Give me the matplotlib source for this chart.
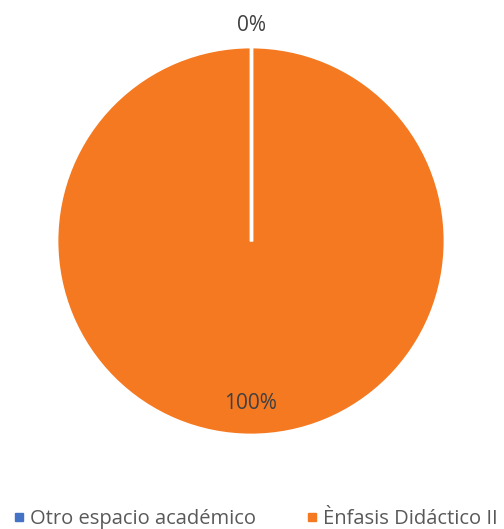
import matplotlib.pyplot as plt
import numpy as np

categories = ["Otro espacio académico", "Ènfasis Didáctico II"]
values = [0, 100]
colors = ["#4472C4", "#F47920"]
label_dist = [1.11, 0.84]

plt.rcParams['font.family'] = ['Open Sans', 'DejaVu Sans']

W, H = 504, 529
fig = plt.figure(figsize=(W / 100, H / 100), dpi=100)
cx, cy, r = 251, 241, 194
ax = fig.add_axes([(cx - r) / W, (H - cy - r) / H, 2 * r / W, 2 * r / H])

wedges, _ = ax.pie(values, colors=colors, startangle=90, counterclock=False,
                   radius=1, wedgeprops=dict(edgecolor="white", linewidth=2))
ax.set_xlim(-1, 1)
ax.set_ylim(-1, 1)
ax.set_aspect("equal")
ax.axis("off")

# slice boundary lines (white separators) from the centre to the rim
for w in wedges:
    t = np.deg2rad(w.theta1)
    ax.plot([0, np.cos(t)], [0, np.sin(t)], color="white", lw=2.5,
            solid_capstyle="butt", zorder=5)

total = sum(values)
for w, v, d in zip(wedges, values, label_dist):
    ang = np.deg2rad((w.theta1 + w.theta2) / 2)
    ax.text(d * np.cos(ang), d * np.sin(ang), f"{v / total:.0%}",
            ha="center", va="center", fontsize=15, color="#404040", clip_on=False)

handles = [plt.Line2D([], [], marker="s", linestyle="", markersize=5.5,
                      markerfacecolor=c, markeredgecolor=c) for c in colors]
fig.legend(handles, categories, loc="center left",
           bbox_to_anchor=(9 / W, 1 - 519 / H),
           ncol=2, frameon=False, fontsize=14.5, labelcolor="#595959",
           handletextpad=0.05, columnspacing=2.25, handlelength=1.0,
           borderpad=0, borderaxespad=0)

fig.savefig("out.png", dpi=100)
